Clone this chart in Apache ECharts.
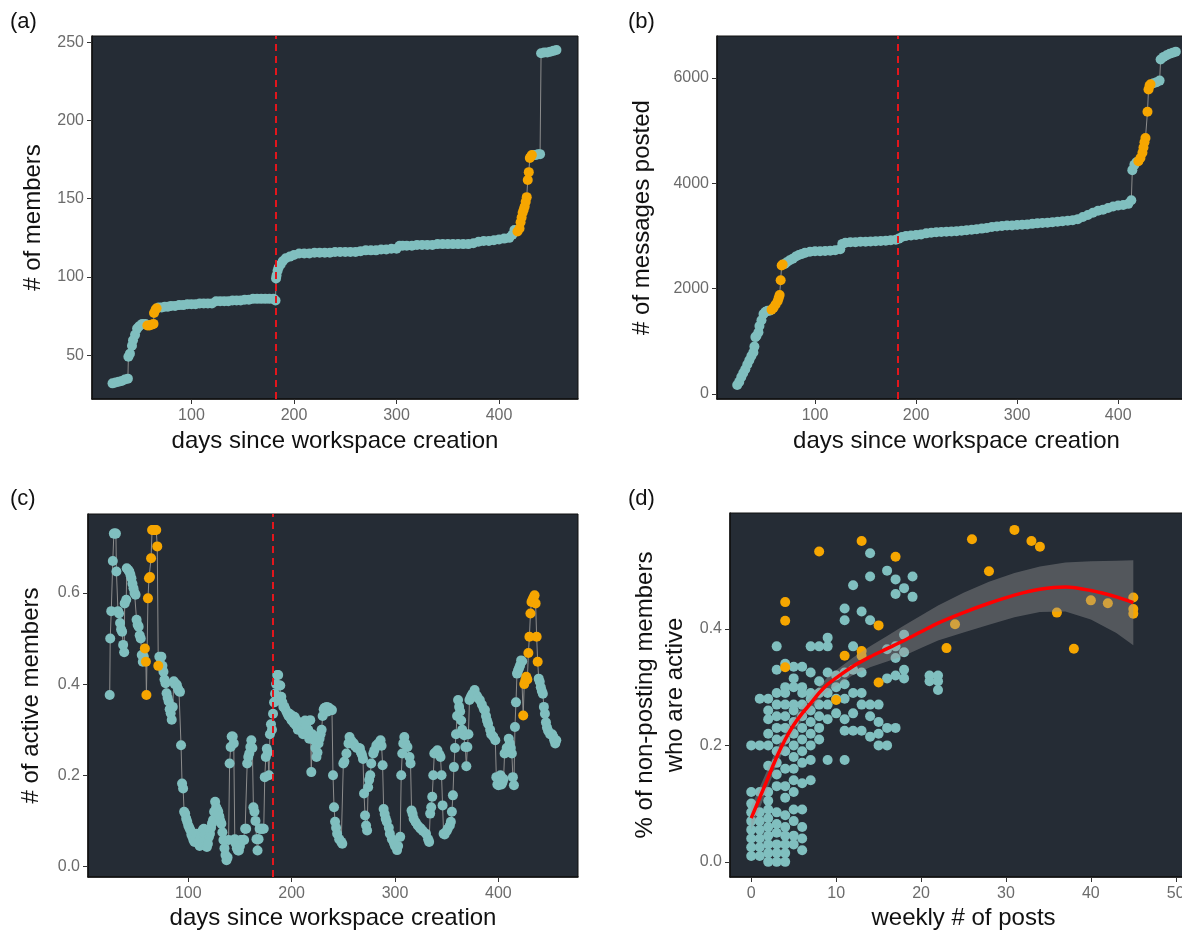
<!DOCTYPE html>
<html><head><meta charset="utf-8">
<script src="https://cdn.jsdelivr.net/npm/echarts@6/dist/echarts.min.js"></script>
<style>html,body{margin:0;padding:0;background:#fff;overflow:hidden;width:1182px;height:939px}#c{width:1215px;height:939px}</style>
</head><body><div id="c"></div>
<script>
// ---------- DATA ----------
const launchDay = 182;
const dayTicks = [100, 200, 300, 400];
const membersTicks = [50, 100, 150, 200, 250];
const messagesTicks = [0, 2000, 4000, 6000];
const activeTicks = [0, 0.2, 0.4, 0.6];
const postsTicks = [0, 10, 20, 30, 40, 50];
const shareTicks = [0, 0.2, 0.4];

// (a) cumulative members: [day, members]
const members = [[23,32],[26,32.5],[29,33],[32,33.5],[35,34.5],[38,35],[38.5,49],[40,51],[42,56],[43,59.6],[45,63],[47,67],[49,68.5],[52,70],[55,70],[57,69],[59,69],[61,69.5],[63,70],[63.5,77],[65,79],[66,80],[68,80.5],[71,80.5],[74,81],[77,81],[80,81.5],[84,81.5],[88,82],[92,82],[96,82.5],[100,82.5],[104,82.5],[108,83],[112,83],[116,83],[120,83],[124,84.5],[128,84.5],[132,84.5],[136,84.5],[140,85],[144,85],[148,85],[152,85.5],[156,85.5],[160,86],[164,86],[168,86],[172,86],[176,86],[180,86],[182,85],[182.5,99],[183,101],[184,104],[185,106],[187,108],[189,110],[192,112],[196,113],[200,114],[205,115],[210,115],[215,115],[220,115.5],[225,115.5],[230,115.5],[235,115.5],[240,116],[245,116],[250,116],[255,116],[260,116],[265,116.5],[270,117],[275,117],[280,117],[285,117.5],[290,117.5],[295,118],[300,118],[303,120],[306,120],[310,120],[315,120],[320,120.5],[325,120.5],[330,120.5],[335,120.5],[340,121],[345,121],[350,121],[355,121],[360,121],[365,121],[370,121],[375,121.5],[380,122.5],[385,123],[390,123],[395,123.5],[400,124],[405,124.5],[410,125],[413,127],[415,130],[418,129],[420,131],[421,135],[422,138],[423,141],[424,143],[425,145],[426,148],[427,151],[428,162],[429,167],[430,176],[431,177],[432,178],[434,178],[436,178],[438,178.5],[440,178.5],[441,243],[444,243.5],[447,243.5],[450,244],[453,244.5],[456,245]];
const membersHighlight = [[57, 66], [418, 432]];

// (b) cumulative messages: [day, messages]
const messages = [[23,170],[25,230],[27,320],[29,400],[31,470],[33,560],[35,640],[37,720],[39,790],[40,900],[41,1080],[42,1100],[44,1170],[45,1290],[47,1400],[49,1520],[51,1560],[53,1580],[55,1580],[57,1600],[59,1640],[61,1700],[63,1760],[64,1820],[65,1880],[66,2160],[67,2440],[68,2460],[70,2470],[72,2500],[75,2540],[78,2570],[81,2610],[84,2640],[87,2660],[90,2680],[95,2700],[100,2710],[105,2710],[110,2715],[115,2720],[120,2730],[125,2750],[127,2850],[130,2870],[135,2880],[140,2880],[145,2890],[150,2890],[155,2895],[160,2900],[165,2905],[170,2910],[175,2920],[180,2930],[183,2950],[186,2980],[190,3000],[195,3010],[200,3020],[205,3030],[210,3050],[215,3060],[220,3070],[225,3075],[230,3080],[235,3085],[240,3090],[245,3100],[250,3110],[255,3120],[260,3130],[265,3140],[270,3150],[275,3170],[280,3180],[285,3190],[290,3200],[295,3200],[300,3210],[305,3215],[310,3220],[315,3230],[320,3240],[325,3245],[330,3250],[335,3260],[340,3270],[345,3280],[350,3290],[355,3300],[360,3320],[365,3360],[370,3400],[375,3440],[380,3480],[385,3500],[390,3530],[395,3560],[400,3580],[405,3590],[410,3610],[413,3680],[414,4250],[416,4350],[418,4400],[420,4420],[422,4480],[424,4580],[425,4680],[426,4780],[427,4860],[429,5360],[430,5780],[431,5850],[432,5880],[435,5900],[438,5920],[441,5950],[442,6350],[445,6400],[448,6430],[451,6460],[454,6480],[457,6500]];
const messagesHighlight = [[57, 68], [420, 432]];

// (c) share of active members: [day, share]
const active = [[24,0.376],[24.5,0.50],[25.5,0.56],[27,0.67],[28,0.73],[29,0.73],[30,0.73],[30.5,0.647],[32,0.56],[33,0.555],[34,0.534],[35,0.52],[36,0.515],[37,0.486],[38,0.47],[38.5,0.577],[40,0.585],[40.5,0.654],[42,0.65],[43,0.647],[44,0.64],[45,0.632],[46,0.62],[47,0.61],[48,0.60],[49,0.596],[50,0.541],[51,0.53],[52,0.526],[53,0.507],[54,0.50],[55,0.464],[56,0.449],[57,0.46],[58,0.478],[59,0.449],[59.5,0.376],[61,0.588],[62,0.632],[63,0.635],[64,0.676],[65,0.738],[66,0.738],[67,0.738],[68,0.738],[69,0.738],[70,0.702],[71,0.44],[72,0.46],[73,0.44],[74,0.46],[75,0.44],[76,0.427],[77,0.41],[78,0.402],[79,0.38],[80,0.37],[81,0.362],[82,0.345],[83,0.336],[84,0.322],[85,0.35],[86,0.406],[87,0.40],[88,0.40],[89,0.398],[90,0.39],[91,0.385],[92,0.383],[93,0.266],[94,0.182],[95,0.171],[96,0.12],[97,0.116],[98,0.105],[99,0.098],[100,0.09],[101,0.085],[102,0.08],[103,0.07],[104,0.065],[105,0.058],[106,0.054],[107,0.065],[108,0.072],[109,0.06],[110,0.054],[111,0.045],[112,0.06],[113,0.072],[114,0.08],[115,0.083],[116,0.07],[117,0.055],[118,0.043],[119,0.05],[120,0.065],[121,0.072],[122,0.085],[123,0.095],[124,0.102],[125,0.12],[126,0.142],[127,0.13],[128,0.125],[129,0.12],[130,0.11],[131,0.1],[132,0.094],[133,0.075],[134,0.058],[135,0.04],[136,0.025],[137,0.014],[138,0.02],[139,0.058],[140,0.226],[141,0.262],[142,0.285],[143,0.285],[144,0.27],[145,0.06],[146,0.05],[147,0.04],[148,0.035],[149,0.035],[150,0.045],[151,0.058],[152,0.058],[153,0.058],[154,0.058],[155,0.083],[156,0.083],[157,0.226],[158,0.24],[159,0.248],[160,0.262],[161,0.277],[162,0.26],[163,0.13],[164,0.12],[165,0.1],[166,0.06],[167,0.035],[168,0.06],[169,0.083],[170,0.083],[171,0.083],[172,0.083],[173,0.083],[174,0.196],[175,0.24],[176,0.258],[177,0.25],[178,0.2],[179,0.29],[180,0.312],[181,0.3],[182,0.335],[183,0.36],[184,0.379],[185,0.4],[186,0.42],[187,0.42],[188,0.397],[189,0.397],[190,0.372],[191,0.36],[192,0.35],[193,0.35],[194,0.345],[195,0.34],[196,0.335],[197,0.33],[198,0.335],[199,0.325],[200,0.32],[201,0.33],[202,0.315],[203,0.328],[204,0.31],[205,0.32],[206,0.3],[207,0.315],[208,0.3],[209,0.306],[210,0.315],[211,0.29],[212,0.3],[213,0.32],[214,0.307],[215,0.29],[216,0.3],[217,0.28],[218,0.321],[219,0.207],[220,0.29],[221,0.28],[222,0.277],[223,0.26],[224,0.24],[225,0.25],[226,0.27],[227,0.28],[228,0.29],[229,0.3],[230,0.33],[231,0.345],[232,0.348],[233,0.345],[234,0.35],[235,0.34],[236,0.348],[237,0.343],[238,0.343],[239,0.343],[240,0.2],[241,0.13],[242,0.098],[243,0.085],[244,0.072],[246,0.06],[248,0.054],[249,0.05],[250,0.226],[251,0.23],[253,0.248],[255,0.27],[256,0.284],[258,0.275],[260,0.27],[261,0.265],[263,0.26],[265,0.26],[266,0.259],[267,0.25],[268,0.245],[269,0.236],[270,0.16],[271,0.112],[272,0.09],[273,0.079],[274,0.174],[275,0.19],[276,0.2],[277,0.226],[279,0.248],[280,0.255],[282,0.266],[284,0.27],[286,0.277],[287,0.265],[288,0.222],[289,0.126],[290,0.115],[291,0.105],[292,0.098],[294,0.085],[295,0.072],[297,0.06],[299,0.051],[300,0.045],[302,0.036],[303,0.045],[305,0.065],[306,0.2],[307,0.248],[308,0.27],[309,0.284],[310,0.27],[312,0.262],[314,0.24],[315,0.226],[316,0.123],[317,0.115],[318,0.105],[320,0.097],[322,0.09],[324,0.085],[325,0.083],[327,0.078],[330,0.072],[332,0.06],[333,0.054],[334,0.116],[335,0.13],[336,0.153],[337,0.2],[338,0.248],[339,0.25],[341,0.255],[343,0.245],[344,0.24],[345,0.2],[346,0.134],[347,0.072],[348,0.07],[350,0.078],[351,0.083],[353,0.09],[354,0.098],[355,0.12],[356,0.156],[357,0.218],[358,0.26],[359,0.29],[360,0.33],[361,0.365],[362,0.35],[363,0.34],[364,0.32],[365,0.3],[366,0.29],[367,0.288],[368,0.262],[369,0.22],[370,0.262],[371,0.29],[372,0.365],[373,0.37],[374,0.375],[375,0.379],[377,0.387],[379,0.375],[380,0.37],[382,0.365],[384,0.355],[386,0.345],[387,0.343],[388,0.33],[389,0.32],[390,0.313],[392,0.3],[393,0.29],[395,0.285],[397,0.277],[398,0.196],[399,0.18],[400,0.178],[401,0.18],[402,0.2],[403,0.18],[404,0.185],[405,0.192],[406,0.248],[407,0.25],[408,0.26],[410,0.28],[411,0.27],[412,0.26],[413,0.248],[414,0.196],[415,0.178],[416,0.306],[417,0.36],[418,0.423],[419,0.43],[420,0.435],[421,0.441],[422,0.452],[423,0.45],[424,0.331],[425,0.40],[426,0.408],[427,0.416],[428,0.41],[429,0.468],[430,0.504],[431,0.555],[432,0.58],[433,0.585],[434,0.59],[435,0.595],[436,0.577],[437,0.504],[438,0.449],[439,0.412],[440,0.405],[441,0.393],[442,0.385],[443,0.379],[444,0.35],[445,0.335],[446,0.316],[447,0.305],[448,0.298],[450,0.29],[452,0.29],[453,0.285],[454,0.277],[455,0.27],[456,0.277]];
const activeHighlight = [[58, 71], [424, 438]];

// (d) weekly posts vs share of non-posting members who are active
const postsTeal = [
  [0,[0.01,0.025,0.04,0.055,0.07,0.085,0.1,0.12,0.2]],
  [1,[0.01,0.025,0.04,0.055,0.07,0.085,0.12,0.2,0.28]],
  [2,[0.0,0.015,0.03,0.045,0.06,0.075,0.09,0.105,0.12,0.165,0.2,0.22,0.245,0.26,0.28]],
  [3,[0.0,0.015,0.03,0.05,0.065,0.085,0.13,0.15,0.17,0.19,0.21,0.23,0.25,0.27,0.29,0.33,0.37]],
  [4,[0.0,0.015,0.03,0.045,0.06,0.08,0.11,0.13,0.16,0.19,0.21,0.23,0.25,0.27,0.29,0.3,0.34]],
  [5,[0.03,0.045,0.07,0.09,0.12,0.14,0.16,0.18,0.2,0.22,0.24,0.26,0.27,0.3,0.315,0.335]],
  [6,[0.02,0.04,0.06,0.09,0.135,0.17,0.19,0.21,0.23,0.25,0.27,0.29,0.3,0.335]],
  [7,[0.14,0.175,0.2,0.22,0.24,0.26,0.28,0.29,0.325,0.37]],
  [8,[0.21,0.23,0.25,0.27,0.29,0.31,0.37]],
  [9,[0.175,0.245,0.27,0.29,0.325,0.37,0.385]],
  [10,[0.255,0.28,0.3,0.32]],
  [11,[0.175,0.225,0.245,0.28,0.305,0.325,0.415,0.435]],
  [12,[0.225,0.255,0.29,0.33,0.37,0.475]],
  [13,[0.225,0.27,0.29,0.325,0.43]],
  [14,[0.215,0.25,0.27,0.415,0.49,0.53]],
  [15,[0.2,0.22,0.24,0.27]],
  [16,[0.2,0.23,0.315,0.365,0.5]],
  [17,[0.23,0.32,0.35,0.37,0.46,0.485]],
  [18,[0.315,0.33,0.36,0.39,0.47]],
  [19,[0.455,0.49]],
  [21,[0.31,0.32]],
  [22,[0.295,0.31,0.32]]
];
const postsOrange = [[4,0.446],[4,0.414],[4,0.334],[8,0.533],[10,0.278],[11,0.354],[13,0.551],[13,0.354],[13,0.362],[15,0.406],[15,0.308],[17,0.524],[23,0.367],[24,0.408],[26,0.554],[28,0.499],[31,0.57],[33,0.551],[34,0.541],[36,0.428],[38,0.366],[40,0.449],[42,0.444],[45,0.454],[45,0.434],[45,0.426]];
const fitX     = [0,1,2,3,4,5,6,7,8,9,10,12,14,16,18,20,22,25,28,31,34,37,40,43,45];
const fitY     = [0.075,0.11,0.145,0.18,0.21,0.235,0.255,0.272,0.29,0.305,0.316,0.336,0.352,0.366,0.38,0.395,0.41,0.428,0.444,0.458,0.468,0.472,0.466,0.455,0.445];
const fitLower = [0.055,0.092,0.129,0.166,0.197,0.223,0.243,0.26,0.278,0.293,0.303,0.321,0.334,0.344,0.354,0.367,0.38,0.394,0.407,0.42,0.429,0.43,0.416,0.393,0.372];
const fitUpper = [0.095,0.128,0.161,0.194,0.223,0.247,0.267,0.284,0.302,0.317,0.329,0.351,0.37,0.388,0.406,0.423,0.44,0.462,0.481,0.496,0.507,0.514,0.516,0.517,0.518];

// ---------- STYLE ----------
const FONT = '"Liberation Sans", Arial, sans-serif';
const PANEL_BG = '#252c35';
const TEAL = '#80bfbf';
const ORANGE = '#f6a600';
const PT = 10;

const inWin = (d, wins) => wins.some(w => d >= w[0] && d <= w[1]);

function xAx(i, min, max, ticks, name, gap, fmt) {
  return {type: 'value', gridIndex: i, min: min, max: max, name: name,
    nameLocation: 'middle', nameGap: gap,
    nameTextStyle: {color: '#111', fontSize: 24, fontFamily: FONT},
    axisLine: {show: true, onZero: false, lineStyle: {color: '#111', width: 1.5}},
    axisTick: {show: true, customValues: ticks, length: 5, lineStyle: {color: '#333', width: 1}},
    axisLabel: {customValues: ticks, color: '#6b6b6b', fontSize: 16, margin: 9, fontFamily: FONT,
      formatter: fmt || (v => String(v))},
    splitLine: {show: false}};
}
function yAx(i, min, max, ticks, name, gap, fmt) {
  return {type: 'value', gridIndex: i, min: min, max: max, name: name,
    nameLocation: 'middle', nameGap: gap,
    nameTextStyle: {color: '#111', fontSize: 24, fontFamily: FONT, lineHeight: 30},
    axisLine: {show: true, onZero: false, lineStyle: {color: '#111', width: 1.5}},
    axisTick: {show: true, customValues: ticks, length: 5, lineStyle: {color: '#333', width: 1}},
    axisLabel: {customValues: ticks, color: '#6b6b6b', fontSize: 16, margin: 8, fontFamily: FONT,
      formatter: fmt || (v => String(v))},
    splitLine: {show: false}};
}
const f1 = v => v.toFixed(1);

function timeSeries(i, data, wins) {
  return [
    {type: 'line', xAxisIndex: i, yAxisIndex: i, data: data, showSymbol: false, z: 2,
     lineStyle: {color: '#8c8c8c', width: 1}, silent: true},
    {type: 'scatter', xAxisIndex: i, yAxisIndex: i, z: 3, symbolSize: PT,
     data: data.filter(p => !inWin(p[0], wins)), itemStyle: {color: TEAL, opacity: 1}, silent: true},
    {type: 'scatter', xAxisIndex: i, yAxisIndex: i, z: 4, symbolSize: PT,
     data: data.filter(p => inWin(p[0], wins)), itemStyle: {color: ORANGE, opacity: 1}, silent: true,
     markLine: {silent: true, symbol: ['none', 'none'], label: {show: false}, z: 10,
       lineStyle: {color: '#e3161c', type: [7, 5], width: 2},
       data: [{xAxis: launchDay}]}}
  ];
}

const grids = [
  {left: 92, top: 36, width: 486, height: 363},
  {left: 717, top: 36, width: 479, height: 363},
  {left: 88, top: 514, width: 490, height: 363},
  {left: 730, top: 513, width: 467, height: 364}
].map(g => Object.assign(g, {show: true, backgroundColor: PANEL_BG, borderColor: '#111', borderWidth: 1, containLabel: false}));

const tealPts = [];
postsTeal.forEach(c => c[1].forEach(y => tealPts.push([c[0], y])));

const option = {
  animation: false,
  backgroundColor: '#ffffff',
  textStyle: {fontFamily: FONT},
  grid: grids,
  xAxis: [
    xAx(0, 3, 477, dayTicks, 'days since workspace creation', 30),
    xAx(1, 3, 477, dayTicks, 'days since workspace creation', 30),
    xAx(2, 3, 477, dayTicks, 'days since workspace creation', 29),
    xAx(3, -2.5, 52.5, postsTicks, 'weekly # of posts', 29)
  ],
  yAxis: [
    yAx(0, 22, 254, membersTicks, '# of members', 44),
    yAx(1, -95, 6797, messagesTicks, '# of messages posted', 60),
    yAx(2, -0.023, 0.773, activeTicks, '# of active members', 42, f1),
    yAx(3, -0.026, 0.599, shareTicks, '% of non-posting members\nwho are active', 40, f1)
  ],
  graphic: [
    {type: 'text', left: 10, top: 11, style: {text: '(a)', font: '22px ' + FONT, fill: '#111'}},
    {type: 'text', left: 628, top: 11, style: {text: '(b)', font: '22px ' + FONT, fill: '#111'}},
    {type: 'text', left: 10, top: 488, style: {text: '(c)', font: '22px ' + FONT, fill: '#111'}},
    {type: 'text', left: 628, top: 488, style: {text: '(d)', font: '22px ' + FONT, fill: '#111'}}
  ],
  series: [].concat(
    timeSeries(0, members, membersHighlight),
    timeSeries(1, messages, messagesHighlight),
    timeSeries(2, active, activeHighlight),
    [
      {type: 'scatter', xAxisIndex: 3, yAxisIndex: 3, z: 3, symbolSize: PT, silent: true,
       data: tealPts, itemStyle: {color: TEAL, opacity: 1}},
      {type: 'scatter', xAxisIndex: 3, yAxisIndex: 3, z: 4, symbolSize: PT, silent: true,
       data: postsOrange, itemStyle: {color: ORANGE, opacity: 1}},
      {type: 'custom', xAxisIndex: 3, yAxisIndex: 3, z: 5, silent: true,
       data: fitX.map((x, k) => [x, fitLower[k], fitUpper[k]]),
       encode: {x: 0, y: [1, 2]},
       renderItem: function (params, api) {
         if (params.dataIndex !== 0) return null;
         const pts = [];
         for (let k = 0; k < fitX.length; k++) pts.push(api.coord([fitX[k], fitUpper[k]]));
         for (let k = fitX.length - 1; k >= 0; k--) pts.push(api.coord([fitX[k], fitLower[k]]));
         return {type: 'polygon', shape: {points: pts}, style: {fill: 'rgba(153,153,153,0.4)'}};
       }},
      {type: 'line', xAxisIndex: 3, yAxisIndex: 3, z: 6, silent: true, showSymbol: false,
       smooth: 0.3, data: fitX.map((x, k) => [x, fitY[k]]),
       lineStyle: {color: '#ff0000', width: 3.5}}
    ]
  )
};

const chart = echarts.init(document.getElementById('c'), null, {renderer: 'canvas'});
chart.setOption(option);
</script>
</body></html>
